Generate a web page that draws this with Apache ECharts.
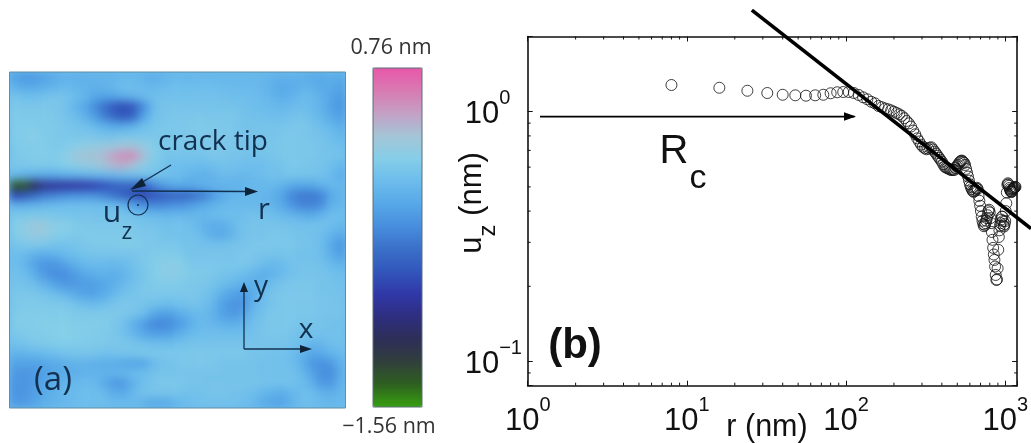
<!DOCTYPE html>
<html><head><meta charset="utf-8">
<style>
html,body{margin:0;padding:0;background:#fff;width:1031px;height:443px;overflow:hidden}
#heatWrap{position:absolute;left:9px;top:72px;width:337px;height:336px;overflow:hidden;background:#6cbcec}
#heat{position:absolute;left:0;top:0;width:337px;height:336px;filter:blur(4px)}
#main{position:absolute;left:0;top:0;width:1031px;height:443px}
</style>
<script src="https://cdn.jsdelivr.net/npm/echarts@6/dist/echarts.min.js"></script>
</head><body>
<div id="heatWrap"><div id="heat"></div></div>
<div id="main"></div>
<script>
// Panel (b): displacement profile
const rValues = [8,16,24,32,40,48,56,64,72,80,88,96,104,112,120,128,136,144,152,160,168,176,184,192,200,208,216,224,232,240,248,256,264,272,280,288,296,304,312,320,328,336,344,352,360,368,376,384,392,400,408,416,424,432,440,448,456,464,472,480,488,496,504,512,520,528,536,544,552,560,568,576,584,592,600,608,616,624,632,640,648,656,664,672,680,688,696,704,712,720,728,736,744,752,760,768,776,784,792,800,808,816,824,832,840,848,856,864,872,880,888,896,904,912,920,928,936,944,952,960,968,976,984,992,1000,1008,1016,1024,1032,1040,1048,1056,1064,1072,1080,1088,1096,1104,1112,1120,1128,1136,1144,1152,1160];
const uValues = [1.279,1.247,1.213,1.188,1.169,1.163,1.159,1.163,1.169,1.185,1.196,1.199,1.199,1.188,1.167,1.142,1.121,1.096,1.08,1.054,1.042,1.03,1.022,1.012,1.0,0.988,0.976,0.962,0.942,0.918,0.898,0.872,0.84,0.812,0.782,0.76,0.738,0.724,0.714,0.707,0.712,0.718,0.72,0.706,0.692,0.68,0.666,0.654,0.642,0.631,0.616,0.603,0.598,0.595,0.592,0.588,0.585,0.584,0.585,0.585,0.595,0.605,0.612,0.622,0.63,0.636,0.637,0.63,0.624,0.612,0.59,0.57,0.55,0.53,0.512,0.5,0.49,0.482,0.478,0.48,0.486,0.492,0.496,0.49,0.46,0.44,0.42,0.4,0.38,0.366,0.355,0.348,0.352,0.358,0.366,0.375,0.385,0.4,0.405,0.395,0.375,0.358,0.33,0.307,0.285,0.268,0.255,0.24,0.222,0.212,0.213,0.236,0.28,0.315,0.335,0.35,0.358,0.37,0.38,0.38,0.365,0.35,0.347,0.355,0.365,0.4,0.43,0.475,0.51,0.517,0.512,0.505,0.495,0.488,0.482,0.478,0.477,0.48,0.486,0.49,0.492,0.495,0.496,0.5,0.5];
const fitLineR = [25.6, 1189];
const fitLineU = [2.55, 0.376];
const rcArrowR = [1.195, 113];
const rcArrowU = [0.956, 0.956];
const xMajorTicks = [1,10,100,1000];
const xMinorTicks = [2,3,4,5,6,7,8,9,20,30,40,50,60,70,80,90,200,300,400,500,600,700,800,900];
const yMajorTicks = [0.1,1];
const yMinorTicks = [0.09,0.2,0.3,0.4,0.5,0.6,0.7,0.8,0.9,2];
const xTickExponents = {1:'0',10:'1',100:'2',1000:'3'};
const yTickExponents = {0.1:'\u22121',1:'0'};
// Panel (a): out-of-plane displacement in 0.01 nm
const heatCentiNm = [
[-20,-25,-25,-20,-15,-10,-10,-10,-8,-8,-8,-5,-5,-8,-12,-8,-5,-5,-5,-5,-5,-5,-5,-5,-5,-5,-8,-10,-10,-10,-15,-15,-12,-15],
[-10,-15,-15,-12,-8,-5,-5,-8,-10,-8,-5,0,0,-3,-5,-3,0,0,0,0,0,-2,-3,-3,-3,-5,-10,-15,-15,-8,-10,-15,-15,-20],
[5,0,0,3,5,5,0,-5,-15,-20,-18,-12,-8,-3,0,3,3,3,3,3,3,2,0,0,0,-3,-8,-12,-10,-3,-3,-10,-18,-25],
[10,8,8,8,8,5,-5,-15,-30,-45,-60,-68,-62,-35,-5,5,5,5,5,5,5,5,5,3,0,0,-3,-5,-3,0,-3,-8,-20,-28],
[12,10,10,10,10,5,0,-8,-20,-38,-52,-62,-55,-22,0,5,8,8,8,8,8,8,8,5,3,3,0,0,3,5,0,-5,-15,-22],
[12,12,12,10,10,8,5,3,-3,-10,-15,-15,-10,0,5,8,8,8,10,10,10,8,8,5,5,5,5,5,8,8,5,0,-5,-12],
[12,12,15,12,10,8,8,8,8,5,5,8,8,8,8,8,8,8,10,10,10,10,8,5,5,5,5,8,8,8,5,5,0,-5],
[10,12,12,12,10,10,14,18,20,22,24,28,28,22,14,8,8,8,8,8,8,8,8,5,5,5,8,8,8,8,8,5,3,0],
[8,10,12,12,12,14,24,30,30,34,44,52,52,34,14,8,5,5,5,5,8,8,5,5,3,5,5,8,8,8,8,5,5,3],
[8,8,10,10,10,12,16,20,22,28,36,38,30,18,10,5,0,0,0,-3,0,3,3,0,0,0,3,5,8,8,5,5,0,-5],
[-5,-10,-15,-15,-15,-12,-10,-8,-5,-5,-3,0,0,3,3,3,0,-3,-8,-10,-8,-3,-3,-5,-3,0,3,3,5,5,5,3,-3,-12],
[-135,-135,-112,-90,-85,-85,-82,-80,-75,-68,-60,-55,-55,-60,-38,-25,-15,-15,-15,-10,-8,-8,-8,-8,-5,-5,-5,-8,-15,-18,-18,-10,-5,-5],
[-70,-65,-52,-42,-38,-34,-30,-30,-30,-36,-45,-55,-65,-70,-65,-60,-55,-55,-50,-42,-28,-15,-8,-5,-5,-5,-10,-18,-35,-42,-42,-38,-15,-8],
[-10,-10,-8,-5,-3,0,0,0,0,0,-3,-8,-20,-30,-35,-35,-30,-28,-22,-15,-10,-5,-3,-3,-3,-5,-8,-15,-28,-36,-38,-32,-10,-5],
[8,8,10,8,8,5,5,5,5,3,5,5,3,0,-3,-5,-5,-5,-5,-5,-3,0,0,0,3,3,0,-3,-8,-12,-15,-8,0,0],
[12,18,24,24,18,15,12,10,8,8,8,8,8,5,5,3,3,3,0,-8,-12,-12,-5,3,5,5,5,5,3,3,3,3,0,-5],
[12,18,22,22,16,12,10,10,10,10,10,10,10,8,8,5,3,3,3,-3,-12,-15,-8,3,5,5,8,8,5,5,3,0,-8,-15],
[5,8,10,8,5,3,5,8,10,10,10,12,12,10,8,8,8,5,5,3,3,3,5,5,8,8,8,8,8,5,5,0,-15,-28],
[0,-3,-10,-12,-10,-5,0,3,5,5,5,5,5,8,10,12,12,8,5,5,5,5,5,8,8,5,5,5,5,3,3,0,-12,-22],
[0,-5,-18,-28,-28,-22,-12,-5,-3,-3,-5,-3,3,8,12,16,18,14,8,8,8,8,8,8,5,0,-5,-3,3,5,5,3,-3,-8],
[3,0,-10,-25,-32,-32,-26,-18,-12,-10,-12,-8,0,5,12,16,18,14,10,10,8,5,3,0,-5,-12,-10,-3,3,5,5,5,3,0],
[5,5,0,-8,-18,-26,-26,-24,-22,-18,-12,-5,3,8,10,12,12,10,8,8,5,0,-5,-10,-12,-8,0,5,8,8,8,5,5,3],
[8,8,8,5,0,-5,-12,-20,-20,-15,-5,3,5,8,8,8,8,8,8,5,0,-12,-20,-25,-15,-3,5,8,8,8,8,5,5,3],
[8,10,10,10,10,8,5,0,-3,0,5,8,8,5,3,0,0,3,5,3,-5,-20,-28,-28,-12,0,5,8,8,8,8,5,5,5],
[10,12,12,12,12,12,10,10,10,10,10,8,5,0,-15,-22,-20,-12,-5,-3,-8,-20,-26,-22,-5,3,8,8,8,8,8,5,5,5],
[12,12,12,14,14,14,12,12,12,12,8,3,-10,-22,-34,-36,-32,-22,-10,-3,-5,-10,-12,-8,0,5,8,8,8,5,5,5,3,3],
[8,10,12,12,14,14,14,12,12,10,8,3,-5,-15,-22,-22,-18,-10,-3,0,0,0,0,0,3,5,8,8,5,3,3,3,3,3],
[3,5,8,10,12,12,12,12,10,10,8,8,5,3,0,0,0,3,5,5,5,5,5,5,5,5,5,5,3,0,-5,-5,0,3],
[-8,-8,-5,-3,0,3,5,5,5,3,3,5,5,8,8,8,8,8,8,8,8,8,8,8,5,5,3,3,0,-8,-18,-15,-8,-3],
[-20,-20,-20,-18,-15,-12,-8,-8,-10,-12,-12,-15,-18,-18,-5,3,5,8,8,8,8,5,5,5,5,3,3,3,0,-10,-25,-30,-26,-10],
[-25,-28,-25,-22,-18,-15,-12,-10,-8,-8,-8,-5,-3,0,3,5,5,5,5,5,5,5,5,5,5,3,3,3,3,-3,-18,-30,-32,-12],
[-28,-28,-25,-18,-12,-8,-5,-3,-3,-12,-24,-26,-10,0,5,8,8,8,5,5,5,5,5,5,5,5,3,3,3,0,-10,-25,-26,-10],
[-28,-28,-22,-15,-10,-5,-3,0,0,-3,-12,-15,-5,3,5,5,5,3,3,3,5,5,3,3,0,-5,-10,-12,-8,0,0,-8,-12,-5],
[-25,-25,-20,-12,-8,-5,-3,0,0,0,-3,-3,-3,-8,-15,-15,-10,-3,0,3,3,3,3,0,-3,-12,-18,-20,-10,0,0,-3,-5,-3]
];
const heatMin = -1.56, heatMax = 0.76;
const heatPalette = ['#38a010','#2e6020','#303f3c','#2e2e58','#2e2e80','#3038a8','#3256bc','#3a70c8','#488ede','#56a8e8','#6cbcec','#86cee8','#a4c4d6','#c4a0c4','#d87ab2','#e858a8'];

const heatCells = [];
heatCentiNm.forEach((row,j)=>row.forEach((v,i)=>heatCells.push([i,j,v/100])));
const heatChart = echarts.init(document.getElementById('heat'));
heatChart.setOption({
  animation:false,
  grid:{left:0,top:0,right:0,bottom:0},
  xAxis:{type:'category',show:false,data:heatCentiNm[0].map((_,i)=>i)},
  yAxis:{type:'category',show:false,inverse:true,data:heatCentiNm.map((_,i)=>i)},
  visualMap:{show:false,min:heatMin,max:heatMax,inRange:{color:heatPalette}},
  series:[{type:'heatmap',data:heatCells,progressive:0,itemStyle:{borderWidth:0}}]
});

const SANS = '"Liberation Sans", Arial, sans-serif';
const HUM = '"Open Sans", sans-serif';
const INK = '#12304f';
const TICK = '#111';
const tickLabelRich = {
  b:{fontFamily:SANS,fontSize:31,color:'#111',lineHeight:36,verticalAlign:'bottom'},
  s:{fontFamily:SANS,fontSize:20,color:'#111',lineHeight:16,verticalAlign:'bottom',padding:[0,0,21,0]}
};
const axisBase = {type:'log',logBase:10,axisLine:{show:true,onZero:false,lineStyle:{color:'#111',width:1.6}},splitLine:{show:false},minorTick:{show:false},
  axisTick:{show:true,inside:true,length:5,lineStyle:{color:TICK,width:1}}};
const xRange = {min:1,max:1189}, yRange = {min:0.08,max:2};
function xAx(pos,labels){return Object.assign({},axisBase,xRange,{position:pos,
  axisLabel:labels?{show:true,margin:15,customValues:xMajorTicks,formatter:v=>`{b|10}{s|${xTickExponents[Math.round(v)]}}`,rich:tickLabelRich,hideOverlap:false}:{show:false}});}
function yAx(pos,labels){return Object.assign({},axisBase,yRange,{position:pos,
  axisLabel:labels?{show:true,margin:63,align:'left',customValues:yMajorTicks,formatter:v=>`{b|10}{s|${yTickExponents[v>0.5?1:0.1]}}`,rich:tickLabelRich,hideOverlap:false}:{show:false}});}

function txt(x,y,text,size,family,fill,extra){return Object.assign({type:'text',x:x,y:y,z:50,silent:true,
  style:{text:text,fontSize:size,fontFamily:family,fill:fill,align:'center',verticalAlign:'middle'}},extra||{});}
function seg(pts,color,w){return {type:'polyline',z:50,silent:true,shape:{points:pts},style:{stroke:color,lineWidth:w,fill:null}};}
function head(pts,color){return {type:'polygon',z:50,silent:true,shape:{points:pts},style:{fill:color}};}
function minorTickMark(params,api){
  const cs = params.coordSys, p = api.coord([api.value(0),api.value(1)]), horizontal = api.value(2)===1, len = 3;
  const lines = horizontal
    ? [[p[0],cs.y+cs.height,p[0],cs.y+cs.height-len],[p[0],cs.y,p[0],cs.y+len]]
    : [[cs.x,p[1],cs.x+len,p[1]],[cs.x+cs.width,p[1],cs.x+cs.width-len,p[1]]];
  return {type:'group',children:lines.map(l=>({type:'line',shape:{x1:l[0],y1:l[1],x2:l[2],y2:l[3]},style:{stroke:TICK,lineWidth:1}}))};
}
// The fit line runs past the right axis to the edge of the picture
function fitLineMark(params,api){
  const a = api.coord([api.value(0),api.value(1)]), b = api.coord([api.value(2),api.value(3)]);
  const xEnd = api.getWidth(), yEnd = a[1]+(b[1]-a[1])*(xEnd-a[0])/(b[0]-a[0]);
  return {type:'line',shape:{x1:a[0],y1:a[1],x2:xEnd,y2:yEnd},style:{stroke:'#000',lineWidth:3.6}};
}

const main = echarts.init(document.getElementById('main'),null,{renderer:'canvas'});
main.setOption({
  animation:false,
  backgroundColor:'transparent',
  grid:{left:527.7,top:36.5,width:490,height:349.2,containLabel:false},
  xAxis:[xAx('bottom',true),xAx('top',false)],
  yAxis:[yAx('left',true),yAx('right',false)],
  visualMap:{type:'continuous',seriesIndex:[],min:heatMin,max:heatMax,calculable:false,realtime:false,
    left:358,top:53,itemWidth:49,itemHeight:339,inRange:{color:heatPalette}},
  series:[
    {name:'minor ticks',type:'custom',clip:false,silent:true,renderItem:minorTickMark,z:2,
     data:xMinorTicks.map(v=>[v,1,1]).concat(yMinorTicks.map(v=>[1,v,0]))},
    {name:'u_z',type:'scatter',data:rValues.map((r,i)=>[r,uValues[i]]),symbol:'circle',symbolSize:11,clip:false,large:false,
     itemStyle:{color:'rgba(0,0,0,0)',borderColor:'#111',borderWidth:1},z:3},
    {name:'fit',type:'custom',clip:false,silent:true,renderItem:fitLineMark,z:4,
     data:[[fitLineR[0],fitLineU[0],fitLineR[1],fitLineU[1]]]},
    {name:'Rc',type:'line',data:rcArrowR.map((r,i)=>[r,rcArrowU[i]]),symbol:'none',clip:false,lineStyle:{color:'#000',width:1.6},z:5}
  ],
  graphic:{elements:[
    {type:'rect',z:40,silent:true,shape:{x:9.5,y:72,width:336,height:336},style:{fill:null,stroke:'#5f8ea6',lineWidth:1}},
    {type:'rect',z:40,silent:true,shape:{x:373,y:68,width:49,height:339},style:{fill:null,stroke:'#5d6f78',lineWidth:1}},
    txt(391,48,'0.76 nm',21.5,HUM,'#333'),
    txt(389,427,'\u22121.56 nm',21.5,HUM,'#333'),
    txt(213,142,'crack tip',28,HUM,INK),
    seg([[171,165],[136,186]],INK,1.3), head([[130,190],[142,178],[146,186]],'#0e2238'),
    seg([[132,191],[250,191.5]],INK,1.3), head([[258,191.5],[245,187],[245,196]],'#0e2238'),
    {type:'circle',z:50,silent:true,shape:{cx:138,cy:205,r:10},style:{fill:null,stroke:INK,lineWidth:1.2}},
    {type:'circle',z:50,silent:true,shape:{cx:138,cy:205,r:1},style:{fill:INK}},
    txt(264,211,'r',29,HUM,INK),
    txt(112,213,'u',30,HUM,INK),
    txt(127,232,'z',23,HUM,INK),
    seg([[244,349],[244,288]],INK,1.3), head([[244,282],[240,292],[248,292]],'#0e2238'),
    seg([[244,349],[304,349]],INK,1.3), head([[312,349],[300,345],[300,353]],'#0e2238'),
    txt(261,287,'y',28,HUM,INK),
    txt(306,330,'x',28,HUM,INK),
    txt(53,381,'(a)',33,HUM,INK),
    // panel (b) texts
    txt(575,346,'(b)',42,SANS,'#111',{style:{text:'(b)',fontSize:42,fontWeight:'bold',fontFamily:SANS,fill:'#111',align:'center',verticalAlign:'middle'}}),
    txt(674,152,'R',40,SANS,'#111'),
    txt(698,179,'c',34,SANS,'#111'),
    txt(767,428,'r (nm)',30.5,SANS,'#111'),
    {type:'text',z:50,silent:true,x:482,y:203,rotation:Math.PI/2,
     style:{text:'{b|u}{s|z}{b| (nm)}',align:'center',verticalAlign:'middle',rich:{
       b:{fontFamily:SANS,fontSize:31,fill:'#111',lineHeight:36,verticalAlign:'bottom',padding:[0,0,12,0]},
       s:{fontFamily:SANS,fontSize:24,fill:'#111',lineHeight:30,verticalAlign:'bottom'}}}},
    head([[856,116.5],[844,112.3],[844,120.7]],'#000')
  ]}
});
</script>
</body></html>
